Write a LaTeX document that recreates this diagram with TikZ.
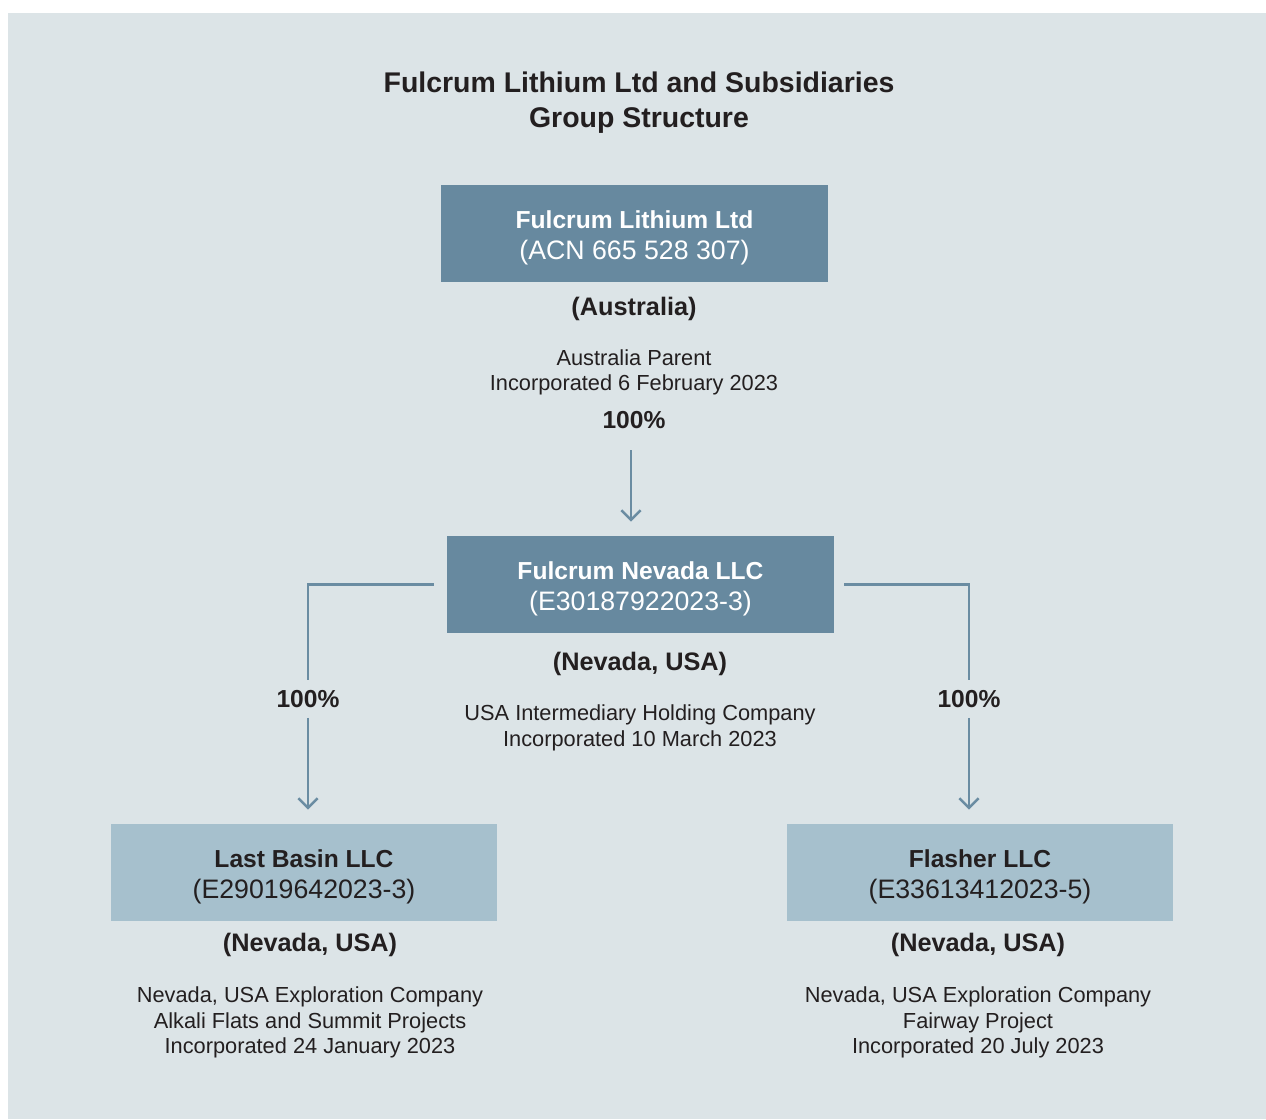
\documentclass[tikz,border=0pt]{standalone}
\usepackage{fontspec}
\setmainfont{Liberation Sans}
\usepackage{xcolor}
\usetikzlibrary{arrows.meta}
\definecolor{FLBack}{HTML}{DCE4E7}
\definecolor{FLDark}{HTML}{67899F}
\definecolor{FLLight}{HTML}{A6C0CD}
\definecolor{FLLine}{HTML}{6A8CA2}
\definecolor{FLText}{HTML}{231F20}

\begin{document}
\begin{tikzpicture}[x=0.02cm,y=-0.02cm,
  box/.style={minimum width=7.74cm,minimum height=1.94cm,inner sep=0pt,align=center,
    text height=29.4pt,text depth=0pt,font=\fontsize{15.2}{17.6}\selectfont},
  darkbox/.style={box,fill=FLDark,text=white},
  lightbox/.style={box,fill=FLLight,text=FLText},
  place/.style={font=\fontsize{14.4}{17}\bfseries,text=FLText,inner sep=0pt},
  info/.style={font=\fontsize{12.4}{14.5}\selectfont,text=FLText,align=center,inner sep=0pt},
  pct/.style={font=\fontsize{14}{17}\bfseries,text=FLText,inner xsep=0pt,inner ysep=5.5pt,
    text height=10pt,text depth=0pt},
  link/.style={FLLine,line width=1.4pt},
  tip/.style={-{Straight Barb[length=5.5pt,width=11pt,line width=1.4pt]}}]
\path[use as bounding box] (0,0) rectangle (1266,1119);
\fill[white] (0,0) rectangle (1266,1119);
\fill[FLBack] (8,13) rectangle (1266,1119);
% title
\node[info,font=\fontsize{16.2}{20}\bfseries] (title) at (639,103) {Fulcrum Lithium Ltd and Subsidiaries\\Group Structure};
% parent
\node[darkbox] (parent) at (634.5,233.5) {{\fontsize{14}{17.6}\bfseries Fulcrum Lithium Ltd}\\(ACN 665 528 307)};
\node[place] (parentloc) at (634,309) {(Australia)};
\node[info] (parentinfo) at (634,372.5) {Australia Parent\\Incorporated 6 February 2023};
\node[pct] (pcttop) at (634,420) {100\%};
% intermediary
\node[darkbox] (nevada) at (640.5,584.5) {{\fontsize{14}{17.6}\bfseries Fulcrum Nevada LLC}\\(E30187922023-3)};
\node[place] (nevadaloc) at (640,664) {(Nevada, USA)};
\node[info] (nevadainfo) at (640,728) {USA Intermediary Holding Company\\Incorporated 10 March 2023};
% subsidiaries
\node[pct] (pctleft) at (308,699) {100\%};
\node[pct] (pctright) at (969,699) {100\%};
\node[lightbox] (lastbasin) at (304,872.5) {{\fontsize{14}{17.6}\bfseries Last Basin LLC}\\(E29019642023-3)};
\node[place] (lastbasinloc) at (310,945) {(Nevada, USA)};
\node[info] (lastbasininfo) at (310,1022.5) {Nevada, USA Exploration Company\\Alkali Flats and Summit Projects\\Incorporated 24 January 2023};
\node[lightbox] (flasher) at (980,872.5) {{\fontsize{14}{17.6}\bfseries Flasher LLC}\\(E33613412023-5)};
\node[place] (flasherloc) at (978,945) {(Nevada, USA)};
\node[info] (flasherinfo) at (978,1022.5) {Nevada, USA Exploration Company\\Fairway Project\\Incorporated 20 July 2023};
% connectors
\coordinate (toptop) at (631,450);
\draw[link,tip,shorten >=0.28cm] (toptop) -- (toptop |- nevada.north);
\draw[link] ([xshift=-0.26cm]nevada.west) -| (pctleft.north);
\draw[link,tip,shorten >=0.28cm] (pctleft.south) -- (pctleft.south |- lastbasin.north);
\draw[link] ([xshift=0.2cm]nevada.east) -| (pctright.north);
\draw[link,tip,shorten >=0.28cm] (pctright.south) -- (pctright.south |- flasher.north);
\end{tikzpicture}
\end{document}
